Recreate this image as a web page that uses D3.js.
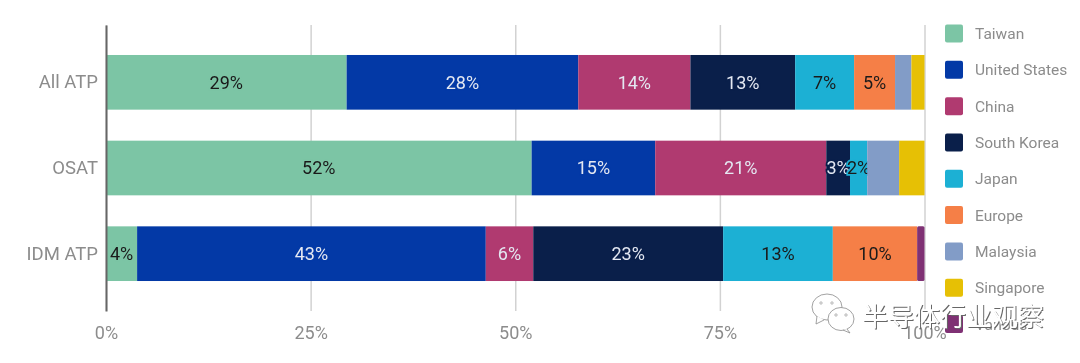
<!DOCTYPE html>
<html>
<head>
<meta charset="utf-8">
<script src="https://cdn.jsdelivr.net/npm/d3@7"></script>
<style>
  html, body { margin: 0; padding: 0; background: #fff; }
  svg { display: block; filter: blur(0.4px); }
  text { font-family: Roboto, sans-serif; }
</style>
</head>
<body>
<div id="chart"></div>
<script>
const groups = ["All ATP", "OSAT", "IDM ATP"];
const regions = ["Taiwan", "United States", "China", "South Korea", "Japan", "Europe", "Malaysia", "Singapore", "Various"];
const colors = ["#7cc5a5", "#0339a6", "#b03a70", "#0a1f4a", "#1cb0d4", "#f57f47", "#829cc7", "#e6c005", "#7f3174"];

// share per region
const allAtp = [29.4, 28.3, 13.7, 12.8, 7.2, 5.0, 2.0, 1.6, 0];
const osat = [52.0, 15.1, 20.9, 2.9, 2.1, 0, 3.9, 3.1, 0];
const idmAtp = [3.8, 42.6, 5.8, 23.2, 13.4, 10.3, 0, 0, 0.9];

// printed labels, not every segment has one
const allAtpLabels = ["29%", "28%", "14%", "13%", "7%", "5%", "", "", ""];
const osatLabels = ["52%", "15%", "21%", "3%", "2%", "", "", "", ""];
const idmAtpLabels = ["4%", "43%", "6%", "23%", "13%", "10%", "", "", ""];

const xTicks = [0, 25, 50, 75, 100];

const width = 1080, height = 363;
const margin = { top: 25, right: 155.5, bottom: 52, left: 106 };
const darkText = new Set(["Taiwan", "Japan", "Europe", "Malaysia", "Singapore"]);

const rows = [allAtp, osat, idmAtp].map((vals, i) => {
    const row = { group: groups[i] };
    regions.forEach((r, j) => { row[r] = vals[j]; });
    return row;
});
const labels = [allAtpLabels, osatLabels, idmAtpLabels];

const svg = d3.select("#chart").append("svg")
    .attr("width", width)
    .attr("height", height);

const xScale = d3.scaleLinear().domain([0, 100]).range([margin.left, width - margin.right]);
const yScale = d3.scaleBand().domain(groups)
    .range([margin.top, height - margin.bottom])
    .paddingInner(0.362).paddingOuter(0.35);
const colorScale = d3.scaleOrdinal().domain(regions).range(colors);

// Gridlines + tick labels
const xAxisG = svg.append("g")
    .attr("transform", `translate(0,${height - margin.bottom})`)
    .call(d3.axisBottom(xScale).tickValues(xTicks).tickFormat(d => d + "%")
        .tickSize(-(height - margin.top - margin.bottom)).tickPadding(15));
xAxisG.select(".domain").remove();
xAxisG.selectAll("line").attr("stroke", "#d2d2d2").attr("stroke-width", 1.5);
xAxisG.selectAll("text").attr("fill", "#8c8c8c").style("font-size", "18px");

// Stacked bars
const series = d3.stack().keys(regions)(rows);
const seriesG = svg.selectAll(".series").data(series).enter().append("g")
    .attr("class", "series")
    .attr("fill", d => colorScale(d.key));

seriesG.selectAll("rect")
    .data(d => d.map(p => ({ key: d.key, p })))
    .enter().append("rect")
    .attr("x", d => xScale(d.p[0]))
    .attr("y", d => yScale(d.p.data.group))
    .attr("width", d => xScale(d.p[1]) - xScale(d.p[0]))
    .attr("height", yScale.bandwidth())
    .attr("rx", d => d.key === "Various" ? 1.5 : 0);

// Segment labels, halo in the segment colour like the original
seriesG.each(function(s, j) {
    d3.select(this).selectAll("text")
        .data(s.map((p, i) => ({ p, label: labels[i][j] })).filter(d => d.label))
        .enter().append("text")
        .attr("x", d => (xScale(d.p[0]) + xScale(d.p[1])) / 2)
        .attr("y", d => yScale(d.p.data.group) + yScale.bandwidth() / 2)
        .attr("dy", "0.36em")
        .attr("text-anchor", "middle")
        .attr("fill", darkText.has(s.key) ? "#1a1a1a" : "#e4e8f2")
        .attr("stroke", colorScale(s.key))
        .attr("stroke-width", 3.5)
        .attr("paint-order", "stroke")
        .style("font-size", "18px")
        .text(d => d.label);
});

// Category axis
const yAxisG = svg.append("g")
    .attr("transform", `translate(${margin.left},0)`)
    .call(d3.axisLeft(yScale).tickSize(0).tickPadding(8));
yAxisG.select(".domain").attr("stroke", "#666").attr("stroke-width", 2);
yAxisG.selectAll("text").attr("fill", "#8c8c8c").style("font-size", "18.5px");

// Legend
const legendY = d3.scalePoint().domain(regions).range([33.5, 324]);
const legend = svg.selectAll(".legend").data(regions).enter().append("g")
    .attr("class", "legend")
    .attr("transform", d => `translate(945,${legendY(d)})`);
legend.append("rect")
    .attr("y", -9).attr("width", 18).attr("height", 18).attr("rx", 2)
    .attr("fill", d => colorScale(d));
legend.append("text")
    .attr("x", 30).attr("dy", "0.36em")
    .attr("fill", "#8c8c8c")
    .style("font-size", "15.5px")
    .text(d => d);

// Watermark
const mark = svg.append("g");
const bubble = (cx, cy, rx, ry, tail) => {
    mark.append("ellipse").attr("cx", cx).attr("cy", cy).attr("rx", rx).attr("ry", ry)
        .attr("fill", "#fff").attr("stroke", "#8a8a8a").attr("stroke-width", 0.8);
    mark.append("path").attr("d", tail).attr("fill", "#fff").attr("stroke", "#8a8a8a").attr("stroke-width", 0.8);
};
bubble(827, 307, 15, 13, "M817 316 L816 324 L824 320");
bubble(841, 319, 13, 11.5, "M847 329 L850 333 L843 330");
[[821, 303], [832, 303], [836, 315], [846, 315]].forEach(([cx, cy]) => {
    mark.append("circle").attr("cx", cx).attr("cy", cy).attr("r", 1.2).attr("fill", "#fff").attr("stroke", "#8a8a8a").attr("stroke-width", 0.6);
});
mark.append("text")
    .attr("x", 862).attr("y", 326)
    .attr("fill", "#fff")
    .style("font-family", "'Noto Sans CJK SC'")
    .style("font-size", "26px")
    .style("text-shadow", "1px 1px 0 #666")
    .text("半导体行业观察");
</script>
</body>
</html>
